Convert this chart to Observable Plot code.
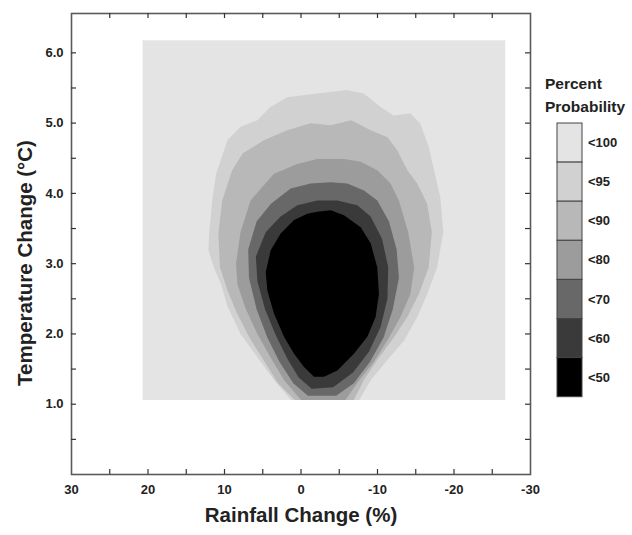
<!DOCTYPE html>
<html><head><meta charset="utf-8">
<script src="https://cdn.jsdelivr.net/npm/d3@7"></script>
<script src="https://cdn.jsdelivr.net/npm/@observablehq/plot@0.6"></script>
<style>
body{margin:0;background:#fff;}
#wrap{position:relative;width:632px;height:535px;font-family:"Liberation Sans",Arial,Helvetica,sans-serif;}
#legend{position:absolute;left:540px;top:70px;}
</style></head><body><div id="wrap"></div>
<script>
// ---- data (rain change %, temperature change °C) ----
const levelNames = ["<100", "<95", "<90", "<80", "<70", "<60", "<50"];
const levelColors = ["#e4e4e4", "#d1d1d1", "#b8b8b8", "#9c9c9c", "#686868", "#3a3a3a", "#000000"];

const region100 = [[20.7,1.06],[20.7,6.18],[-26.7,6.18],[-26.7,1.06]];
const region95 = [[1.3,1.06],[3.5,1.34],[5.7,1.67],[7.9,2.00],[9.6,2.39],[10.5,2.72],[11.4,2.95],[12.1,3.19],[12.0,3.45],[11.6,3.9],[11.1,4.28],[9.6,4.76],[7.9,4.95],[5.7,5.04],[4.0,5.23],[1.8,5.37],[-2.1,5.42],[-6.0,5.47],[-8.2,5.42],[-10.4,5.23],[-12.1,5.11],[-14.3,5.14],[-15.6,4.99],[-16.7,4.66],[-17.4,4.33],[-18.2,3.95],[-18.6,3.45],[-17.8,2.95],[-16.5,2.57],[-15.2,2.24],[-13.5,1.91],[-11.3,1.63],[-9.1,1.34],[-7.6,1.06]];
const region90 = [[0.8,1.06],[3.0,1.30],[4.9,1.63],[6.8,1.96],[8.4,2.30],[9.6,2.62],[10.6,2.95],[10.8,3.43],[10.3,3.9],[9.0,4.33],[7.6,4.57],[4.8,4.76],[1.8,4.90],[-1.25,5.0],[-3.9,4.97],[-6.6,5.04],[-9.1,4.90],[-11.3,4.80],[-12.6,4.61],[-13.9,4.33],[-15.2,4.14],[-16.5,3.85],[-17.1,3.45],[-16.7,2.95],[-15.4,2.57],[-13.9,2.24],[-12.2,1.96],[-9.97,1.63],[-8.2,1.34],[-6.9,1.06]];
const region80 = [[0.0,1.06],[2.2,1.34],[4.0,1.67],[5.7,2.0],[7.2,2.35],[8.3,2.7],[8.5,3.0],[7.9,3.45],[6.6,3.9],[3.53,4.28],[0.48,4.42],[-2.13,4.49],[-5.62,4.49],[-7.8,4.45],[-9.97,4.33],[-11.7,4.14],[-12.8,3.9],[-14.0,3.45],[-14.8,2.95],[-14.3,2.57],[-13.0,2.24],[-11.3,1.91],[-9.5,1.6],[-7.6,1.34],[-5.8,1.06]];
const region70 = [[-0.9,1.12],[1.0,1.3],[2.8,1.6],[4.4,1.95],[5.8,2.35],[6.8,2.8],[6.9,3.2],[5.8,3.6],[3.96,3.85],[1.35,4.07],[-1.26,4.14],[-3.88,4.16],[-6.05,4.14],[-8.23,4.04],[-9.97,3.90],[-11.5,3.6],[-12.5,3.2],[-12.8,2.8],[-12.0,2.35],[-10.8,1.95],[-9.0,1.6],[-6.9,1.3],[-4.6,1.12]];
const region60 = [[-1.4,1.22],[0.3,1.38],[1.8,1.65],[3.3,1.98],[4.7,2.35],[5.7,2.75],[5.9,3.1],[4.6,3.45],[2.66,3.67],[0.48,3.83],[-2.13,3.90],[-4.75,3.90],[-7.36,3.83],[-9.1,3.67],[-10.6,3.35],[-11.4,2.95],[-11.3,2.5],[-10.4,2.1],[-8.9,1.75],[-6.8,1.45],[-4.2,1.24]];
const region50 = [[-2.13,3.74],[-3.88,3.76],[-5.62,3.69],[-7.80,3.52],[-9.10,3.29],[-9.97,2.95],[-10.19,2.57],[-9.75,2.24],[-8.67,1.96],[-6.92,1.72],[-4.75,1.48],[-3.01,1.39],[-1.70,1.39],[-0.39,1.53],[0.91,1.72],[2.22,1.96],[3.53,2.29],[4.40,2.62],[4.61,2.88],[3.96,3.19],[2.66,3.43],[0.91,3.62],[-0.83,3.71]];
const regions = [region100, region95, region90, region80, region70, region60, region50];

const rainMinorTicks = [25,20,15,10,5,0,-5,-10,-15,-20,-25];
const rainLabels = [30,20,10,0,-10,-20,-30];
const tempMinorTicks = [0.5,1,1.5,2,2.5,3,3.5,4,4.5,5,5.5,6];
const tempLabels = [1,2,3,4,5,6];
const xTitle = "Rainfall Change (%)";
const yTitle = "Temperature Change (°C)";
const legendTitle = ["Percent", "Probability"];

// ---- chart ----
const font = "'Liberation Sans', Arial, Helvetica, sans-serif";
const W = 632, H = 535, mL = 71, mR = 102, mT = 13, mB = 61;
const frameW = W - mL - mR, frameH = H - mT - mB, tick = 5;
const chart = Plot.plot({
  width: W, height: H,
  marginLeft: mL, marginRight: mR, marginTop: mT, marginBottom: mB,
  style: {fontFamily: font, fontSize: "13px", fontWeight: "bold", color: "#222", background: "white", overflow: "visible"},
  x: {domain: [30, -30]},
  y: {domain: [0, 6.56]},
  marks: [
    ...regions.map((r, i) => Plot.line(r, {x: d => d[0], y: d => d[1], fill: levelColors[i], stroke: "none", curve: "linear-closed"})),
    Plot.frame({stroke: "#5a5a5a", strokeWidth: 1.6}),
    Plot.tickX(rainMinorTicks, {x: d => d, insetTop: frameH - tick, stroke: "#333", strokeWidth: 1.2}),
    Plot.tickX(rainMinorTicks, {x: d => d, insetBottom: frameH - tick, stroke: "#333", strokeWidth: 1.2}),
    Plot.tickY(tempMinorTicks, {y: d => d, insetRight: frameW - tick, stroke: "#333", strokeWidth: 1.2}),
    Plot.tickY(tempMinorTicks, {y: d => d, insetLeft: frameW - tick, stroke: "#333", strokeWidth: 1.2}),
    Plot.axisX(rainLabels, {anchor: "bottom", tickSize: 0, tickPadding: 10, tickFormat: d => String(d), label: null, fill: "#222"}),
    Plot.axisY(tempLabels, {anchor: "left", tickSize: 0, tickPadding: 8, tickFormat: d => d.toFixed(1), label: null, fill: "#222"}),
    Plot.text([xTitle], {frameAnchor: "bottom", dy: 47, fontSize: 20.5, fontWeight: "bold", fill: "#222", text: d => d}),
    Plot.text([yTitle], {frameAnchor: "left", dx: -46, dy: 19, rotate: -90, textAnchor: "middle", fontSize: 20.5, fontWeight: "bold", fill: "#222", text: d => d})
  ]
});
const wrap = document.getElementById("wrap");
wrap.appendChild(chart);

// ---- legend ----
const lg = d3.select(wrap).append("svg").attr("id", "legend").attr("width", 92).attr("height", 335)
  .style("font-family", font).style("font-weight", "bold");
lg.selectAll("text.t").data(legendTitle).join("text").attr("class", "t")
  .attr("x", 5).attr("y", (d, i) => 19 + i * 23).attr("font-size", 15.5).attr("fill", "#222").text(d => d);
const boxH = 39.1;
const order = levelNames.map((n, i) => ({n, c: levelColors[i], i}));
lg.selectAll("rect").data(order).join("rect")
  .attr("x", 17).attr("y", d => 53 + d.i * boxH).attr("width", 25).attr("height", boxH)
  .attr("fill", d => d.c).attr("stroke", "#444").attr("stroke-width", 1);
lg.selectAll("text.l").data(order).join("text").attr("class", "l")
  .attr("x", 48).attr("y", d => 53 + d.i * boxH + boxH / 2).attr("dy", "0.35em")
  .attr("font-size", 13).attr("fill", "#222").text(d => d.n);
</script></body></html>
